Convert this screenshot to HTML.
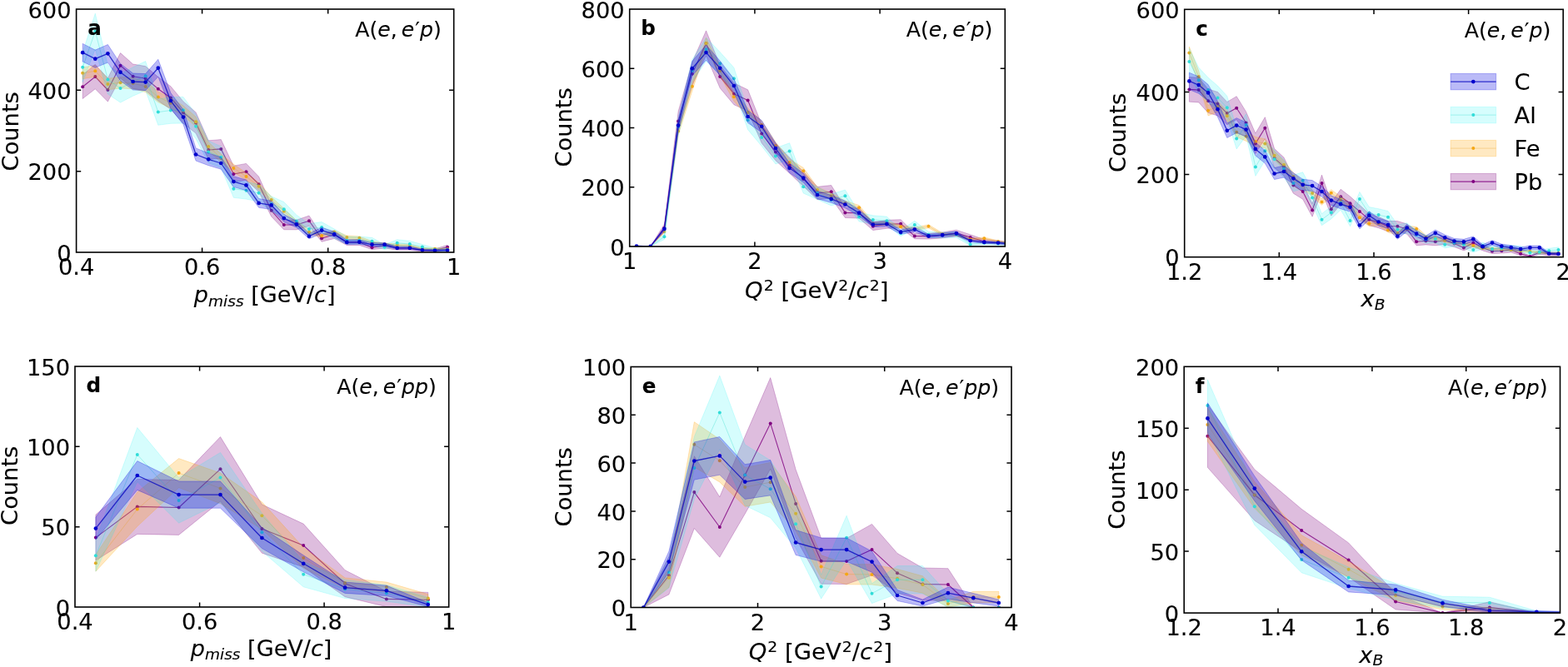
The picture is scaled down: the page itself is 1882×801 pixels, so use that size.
<!DOCTYPE html>
<html lang="en"><head><meta charset="utf-8"><title>Kinematic distributions</title>
<style>html,body{margin:0;padding:0;background:#fff;}body{width:1882px;height:801px;overflow:hidden;}svg{display:block;filter:blur(0.55px);}text{font-family:"DejaVu Sans","Liberation Sans",sans-serif;fill:#000;stroke:#000;stroke-width:0.1px;}.t{font-size:26px;}.ti{font-size:25.2px;}.b{font-weight:bold;font-size:24.6px;}.i{font-style:italic;}.s{font-size:17.8px;}</style></head><body>
<svg width="1882" height="801" viewBox="0 0 1882 801">
<rect width="1882" height="801" fill="#fff"/>
<g id="panel-a">
<clipPath id="clip-a"><rect x="91.6" y="11" width="453.1" height="292"/></clipPath>
<g clip-path="url(#clip-a)">
<polygon points="99.2,89.9 114.3,77.4 129.4,93.9 144.5,63.6 159.6,77 174.7,79.6 189.8,92.5 204.9,103.7 220,121.9 235.1,134.9 250.2,168.8 265.3,167.6 280.4,199.2 295.5,196.4 310.6,212.1 325.7,245.6 340.8,264.2 355.9,264.2 371,259 386.1,282.1 401.2,277.1 416.3,287.5 431.4,287.5 446.5,294.8 461.6,292.1 476.7,295.7 491.8,295.7 506.9,298.9 522,298.9 537.1,294.3 537.1,299.3 522,302.1 506.9,302.1 491.8,300.3 476.7,300.3 461.6,297.9 446.5,299.6 431.4,294.5 416.3,294.5 401.2,286.5 386.1,290.3 371,271.4 355.9,275.8 340.8,275.8 325.7,260 310.6,230.3 295.5,216.2 280.4,218.8 265.3,190.2 250.2,191.2 235.1,160.1 220,148.1 204.9,131.3 189.8,120.9 174.7,108.8 159.6,106.4 144.5,93.8 129.4,122.1 114.3,106.8 99.2,118.5" fill="#800080" fill-opacity="0.26" stroke="#800080" stroke-opacity="0.26" stroke-width="1"/>
<polyline points="99.2,104.2 114.3,92.1 129.4,108 144.5,78.7 159.6,91.7 174.7,94.2 189.8,106.7 204.9,117.5 220,135 235.1,147.5 250.2,180 265.3,178.9 280.4,209 295.5,206.3 310.6,221.2 325.7,252.8 340.8,270 355.9,270 371,265.2 386.1,286.2 401.2,281.8 416.3,291 431.4,291 446.5,297.2 461.6,295 476.7,298 491.8,298 506.9,300.5 522,300.5 537.1,296.8" fill="none" stroke="#800080" stroke-opacity="0.8" stroke-width="1.1" stroke-linejoin="round"/>
<g fill="#800080" fill-opacity="1"><circle cx="99.2" cy="104.2" r="2.0"/><circle cx="114.3" cy="92.1" r="2.0"/><circle cx="129.4" cy="108" r="2.0"/><circle cx="144.5" cy="78.7" r="2.0"/><circle cx="159.6" cy="91.7" r="2.0"/><circle cx="174.7" cy="94.2" r="2.0"/><circle cx="189.8" cy="106.7" r="2.0"/><circle cx="204.9" cy="117.5" r="2.0"/><circle cx="220" cy="135" r="2.0"/><circle cx="235.1" cy="147.5" r="2.0"/><circle cx="250.2" cy="180" r="2.0"/><circle cx="265.3" cy="178.9" r="2.0"/><circle cx="280.4" cy="209" r="2.0"/><circle cx="295.5" cy="206.3" r="2.0"/><circle cx="310.6" cy="221.2" r="2.0"/><circle cx="325.7" cy="252.8" r="2.0"/><circle cx="340.8" cy="270" r="2.0"/><circle cx="355.9" cy="270" r="2.0"/><circle cx="371" cy="265.2" r="2.0"/><circle cx="386.1" cy="286.2" r="2.0"/><circle cx="401.2" cy="281.8" r="2.0"/><circle cx="416.3" cy="291" r="2.0"/><circle cx="431.4" cy="291" r="2.0"/><circle cx="446.5" cy="297.2" r="2.0"/><circle cx="461.6" cy="295" r="2.0"/><circle cx="476.7" cy="298" r="2.0"/><circle cx="491.8" cy="298" r="2.0"/><circle cx="506.9" cy="300.5" r="2.0"/><circle cx="522" cy="300.5" r="2.0"/><circle cx="537.1" cy="296.8" r="2.0"/></g>
<polygon points="99.2,80.9 114.3,78.4 129.4,94.3 144.5,92.6 159.6,93.3 174.7,97.4 189.8,110 204.9,117.4 220,126.9 235.1,140.3 250.2,170.6 265.3,185 280.4,197.3 295.5,207.5 310.6,219.5 325.7,236.3 340.8,250.4 355.9,264.7 371,276.4 386.1,281 401.2,276.4 416.3,282.9 431.4,283.9 446.5,289.6 461.6,292 476.7,292.9 491.8,293.7 506.9,297.7 522,297.7 537.1,298.4 537.1,300.2 522,299.7 506.9,299.7 491.8,296.3 476.7,295.7 461.6,294.8 446.5,292.8 431.4,287.7 416.3,286.9 401.2,281 386.1,285.2 371,281 355.9,270.3 340.8,257 325.7,243.7 310.6,227.9 295.5,216.5 280.4,206.7 265.3,195 250.2,181.2 235.1,152.1 220,139.1 204.9,130 189.8,122.8 174.7,110.6 159.6,106.7 144.5,106 129.4,107.7 114.3,92.2 99.2,94.7" fill="#ffa500" fill-opacity="0.24" stroke="#ffa500" stroke-opacity="0.24" stroke-width="1"/>
<polyline points="99.2,87.8 114.3,85.3 129.4,101 144.5,99.3 159.6,100 174.7,104 189.8,116.4 204.9,123.7 220,133 235.1,146.2 250.2,175.9 265.3,190 280.4,202 295.5,212 310.6,223.7 325.7,240 340.8,253.7 355.9,267.5 371,278.7 386.1,283.1 401.2,278.7 416.3,284.9 431.4,285.8 446.5,291.2 461.6,293.4 476.7,294.3 491.8,295 506.9,298.7 522,298.7 537.1,299.3" fill="none" stroke="#e8a020" stroke-opacity="0.33" stroke-width="1.0" stroke-linejoin="round"/>
<g fill="#f5a614" fill-opacity="1"><circle cx="99.2" cy="87.8" r="2.0"/><circle cx="114.3" cy="85.3" r="2.0"/><circle cx="129.4" cy="101" r="2.0"/><circle cx="144.5" cy="99.3" r="2.0"/><circle cx="159.6" cy="100" r="2.0"/><circle cx="174.7" cy="104" r="2.0"/><circle cx="189.8" cy="116.4" r="2.0"/><circle cx="204.9" cy="123.7" r="2.0"/><circle cx="220" cy="133" r="2.0"/><circle cx="235.1" cy="146.2" r="2.0"/><circle cx="250.2" cy="175.9" r="2.0"/><circle cx="265.3" cy="190" r="2.0"/><circle cx="280.4" cy="202" r="2.0"/><circle cx="295.5" cy="212" r="2.0"/><circle cx="310.6" cy="223.7" r="2.0"/><circle cx="325.7" cy="240" r="2.0"/><circle cx="340.8" cy="253.7" r="2.0"/><circle cx="355.9" cy="267.5" r="2.0"/><circle cx="371" cy="278.7" r="2.0"/><circle cx="386.1" cy="283.1" r="2.0"/><circle cx="401.2" cy="278.7" r="2.0"/><circle cx="416.3" cy="284.9" r="2.0"/><circle cx="431.4" cy="285.8" r="2.0"/><circle cx="446.5" cy="291.2" r="2.0"/><circle cx="461.6" cy="293.4" r="2.0"/><circle cx="476.7" cy="294.3" r="2.0"/><circle cx="491.8" cy="295" r="2.0"/><circle cx="506.9" cy="298.7" r="2.0"/><circle cx="522" cy="298.7" r="2.0"/><circle cx="537.1" cy="299.3" r="2.0"/></g>
<polygon points="99.2,62.8 114.3,16.2 129.4,78.1 144.5,89.1 159.6,80.7 174.7,73.6 189.8,118.9 204.9,116.7 220,116.4 235.1,136.9 250.2,169.1 265.3,175.8 280.4,216.3 295.5,218.3 310.6,221.6 325.7,235.8 340.8,242.5 355.9,258.2 371,268.6 386.1,266.5 401.2,274.9 416.3,284.1 431.4,284.1 446.5,285.3 461.6,293.8 476.7,287.8 491.8,289.3 506.9,293.5 522,297.9 537.1,297.9 537.1,302.1 522,302.1 506.9,299.7 491.8,296.9 476.7,295.8 461.6,299.8 446.5,294.1 431.4,293.3 416.3,293.3 401.2,286.3 386.1,279.7 371,281.4 355.9,273 340.8,259.9 325.7,254.2 310.6,242 295.5,239.1 280.4,237.3 265.3,201.6 250.2,195.7 235.1,166.7 220,148 204.9,148.3 189.8,150.3 174.7,108.8 159.6,115.3 144.5,123.1 129.4,112.9 114.3,59 99.2,98.8" fill="#00f0f0" fill-opacity="0.16" stroke="#00f0f0" stroke-opacity="0.16" stroke-width="1"/>
<polyline points="99.2,80.8 114.3,37.6 129.4,95.5 144.5,106.1 159.6,98 174.7,91.2 189.8,134.6 204.9,132.5 220,132.2 235.1,151.8 250.2,182.4 265.3,188.7 280.4,226.8 295.5,228.7 310.6,231.8 325.7,245 340.8,251.2 355.9,265.6 371,275 386.1,273.1 401.2,280.6 416.3,288.7 431.4,288.7 446.5,289.7 461.6,296.8 476.7,291.8 491.8,293.1 506.9,296.6 522,300 537.1,300" fill="none" stroke="#40e0d0" stroke-opacity="0.38" stroke-width="1.0" stroke-linejoin="round"/>
<g fill="#30dcd8" fill-opacity="1"><circle cx="99.2" cy="80.8" r="2.0"/><circle cx="114.3" cy="37.6" r="2.0"/><circle cx="129.4" cy="95.5" r="2.0"/><circle cx="144.5" cy="106.1" r="2.0"/><circle cx="159.6" cy="98" r="2.0"/><circle cx="174.7" cy="91.2" r="2.0"/><circle cx="189.8" cy="134.6" r="2.0"/><circle cx="204.9" cy="132.5" r="2.0"/><circle cx="220" cy="132.2" r="2.0"/><circle cx="235.1" cy="151.8" r="2.0"/><circle cx="250.2" cy="182.4" r="2.0"/><circle cx="265.3" cy="188.7" r="2.0"/><circle cx="280.4" cy="226.8" r="2.0"/><circle cx="295.5" cy="228.7" r="2.0"/><circle cx="310.6" cy="231.8" r="2.0"/><circle cx="325.7" cy="245" r="2.0"/><circle cx="340.8" cy="251.2" r="2.0"/><circle cx="355.9" cy="265.6" r="2.0"/><circle cx="371" cy="275" r="2.0"/><circle cx="386.1" cy="273.1" r="2.0"/><circle cx="401.2" cy="280.6" r="2.0"/><circle cx="416.3" cy="288.7" r="2.0"/><circle cx="431.4" cy="288.7" r="2.0"/><circle cx="446.5" cy="289.7" r="2.0"/><circle cx="461.6" cy="296.8" r="2.0"/><circle cx="476.7" cy="291.8" r="2.0"/><circle cx="491.8" cy="293.1" r="2.0"/><circle cx="506.9" cy="296.6" r="2.0"/><circle cx="522" cy="300" r="2.0"/><circle cx="537.1" cy="300" r="2.0"/></g>
<polygon points="99.2,52.4 114.3,60.1 129.4,53.5 144.5,76.4 159.6,88 174.7,88.6 189.8,71.3 204.9,111.6 220,131.7 235.1,177.9 250.2,183.9 265.3,188.8 280.4,211.7 295.5,216.1 310.6,238.5 325.7,241.2 340.8,257.6 355.9,265.3 371,280.6 386.1,273 401.2,278.2 416.3,288.5 431.4,288.1 446.5,291.6 461.6,291.6 476.7,296.2 491.8,296.2 506.9,299.2 522,299.8 537.1,299.4 537.1,301.6 522,301.8 506.9,301.4 491.8,299.4 476.7,299.4 461.6,295.8 446.5,295.8 431.4,293.1 416.3,293.3 401.2,284.6 386.1,280.2 371,286.8 355.9,273.3 340.8,266.6 325.7,251.6 310.6,249.3 295.5,228.7 280.4,224.5 265.3,203.2 250.2,198.7 235.1,193.1 220,149.5 204.9,130.4 189.8,92.1 174.7,108.6 159.6,108 144.5,97 129.4,75.1 114.3,81.3 99.2,74" fill="#0000e0" fill-opacity="0.27" stroke="#0000e0" stroke-opacity="0.27" stroke-width="1"/>
<polyline points="99.2,63.2 114.3,70.7 129.4,64.3 144.5,86.7 159.6,98 174.7,98.6 189.8,81.7 204.9,121 220,140.6 235.1,185.5 250.2,191.3 265.3,196 280.4,218.1 295.5,222.4 310.6,243.9 325.7,246.4 340.8,262.1 355.9,269.3 371,283.7 386.1,276.6 401.2,281.4 416.3,290.9 431.4,290.6 446.5,293.7 461.6,293.7 476.7,297.8 491.8,297.8 506.9,300.3 522,300.8 537.1,300.5" fill="none" stroke="#0a0ac0" stroke-opacity="0.8" stroke-width="1.3" stroke-linejoin="round"/>
<g fill="#0000cd" fill-opacity="1"><circle cx="99.2" cy="63.2" r="2.35"/><circle cx="114.3" cy="70.7" r="2.35"/><circle cx="129.4" cy="64.3" r="2.35"/><circle cx="144.5" cy="86.7" r="2.35"/><circle cx="159.6" cy="98" r="2.35"/><circle cx="174.7" cy="98.6" r="2.35"/><circle cx="189.8" cy="81.7" r="2.35"/><circle cx="204.9" cy="121" r="2.35"/><circle cx="220" cy="140.6" r="2.35"/><circle cx="235.1" cy="185.5" r="2.35"/><circle cx="250.2" cy="191.3" r="2.35"/><circle cx="265.3" cy="196" r="2.35"/><circle cx="280.4" cy="218.1" r="2.35"/><circle cx="295.5" cy="222.4" r="2.35"/><circle cx="310.6" cy="243.9" r="2.35"/><circle cx="325.7" cy="246.4" r="2.35"/><circle cx="340.8" cy="262.1" r="2.35"/><circle cx="355.9" cy="269.3" r="2.35"/><circle cx="371" cy="283.7" r="2.35"/><circle cx="386.1" cy="276.6" r="2.35"/><circle cx="401.2" cy="281.4" r="2.35"/><circle cx="416.3" cy="290.9" r="2.35"/><circle cx="431.4" cy="290.6" r="2.35"/><circle cx="446.5" cy="293.7" r="2.35"/><circle cx="461.6" cy="293.7" r="2.35"/><circle cx="476.7" cy="297.8" r="2.35"/><circle cx="491.8" cy="297.8" r="2.35"/><circle cx="506.9" cy="300.3" r="2.35"/><circle cx="522" cy="300.8" r="2.35"/><circle cx="537.1" cy="300.5" r="2.35"/></g>
</g>
<path d="M242.6 303v-5.6M242.6 11v5.6M393.7 303v-5.6M393.7 11v5.6M91.6 205.7h5.6M544.7 205.7h-5.6M91.6 108.3h5.6M544.7 108.3h-5.6" stroke="#000" stroke-width="1.5" fill="none"/>
<rect x="91.6" y="11" width="453.1" height="292" fill="none" stroke="#000" stroke-width="1.6"/>
<text class="t" transform="translate(91.6 330) scale(1.05 1)" text-anchor="middle">0.4</text>
<text class="t" transform="translate(242.6 330) scale(1.05 1)" text-anchor="middle">0.6</text>
<text class="t" transform="translate(393.7 330) scale(1.05 1)" text-anchor="middle">0.8</text>
<text class="t" transform="translate(544.7 330) scale(1.05 1)" text-anchor="middle">1</text>
<text class="t" transform="translate(85.6 313.7) scale(1.05 1)" text-anchor="end">0</text>
<text class="t" transform="translate(85.6 216.4) scale(1.05 1)" text-anchor="end">200</text>
<text class="t" transform="translate(85.6 119) scale(1.05 1)" text-anchor="end">400</text>
<text class="t" transform="translate(85.6 21.7) scale(1.05 1)" text-anchor="end">600</text>
<text class="t" transform="translate(21.9 157.8) rotate(-90) scale(1.05 1)" text-anchor="middle">Counts</text>
<text class="t" transform="translate(317.7 363.4) scale(1.042 1)" text-anchor="middle"><tspan class="i">p</tspan><tspan class="i s" dy="4.2">miss</tspan><tspan dy="-4.2"> [GeV/</tspan><tspan class="i">c</tspan>]</text>
<text class="t b" transform="translate(105.2 42.3) scale(1.0 1)" text-anchor="start">a</text>
<text class="t ti" transform="translate(529.8 44.3) scale(1.0 1)" text-anchor="end">A(<tspan class="i">e</tspan>,<tspan class="i" dx="5">e</tspan><tspan dx="1">′</tspan><tspan class="i">p</tspan>)</text>
</g>
<g id="panel-b">
<clipPath id="clip-b"><rect x="755.7" y="11" width="450.6" height="285"/></clipPath>
<g clip-path="url(#clip-b)">
<polygon points="764,296 780.7,296 797.4,269.2 814.1,133.8 830.8,74.8 847.5,36.9 864.2,78.4 880.9,99.7 897.6,107.8 914.2,149.4 930.9,172.1 947.6,189.1 964.3,206.3 981,224.3 997.7,222.5 1014.4,249.3 1031.1,249.9 1047.8,267.1 1064.4,264.3 1081.1,263.7 1097.8,280 1114.5,280.3 1131.2,278.9 1147.9,276.2 1164.6,281.7 1181.3,287.6 1198,289.1 1214.6,291.3 1214.6,294.7 1198,293.3 1181.3,292.4 1164.6,288.1 1147.9,283.8 1131.2,285.9 1114.5,287.1 1097.8,286.8 1081.1,273.7 1064.4,274.3 1047.8,276.5 1031.1,262.1 1014.4,261.5 997.7,238.1 981,239.7 964.3,223.7 947.6,208.1 930.9,192.7 914.2,171.8 897.6,133.2 880.9,125.7 864.2,105.8 847.5,66.9 830.8,102.6 814.1,157.4 797.4,278.2 780.7,296 764,296" fill="#800080" fill-opacity="0.26" stroke="#800080" stroke-opacity="0.26" stroke-width="1"/>
<polyline points="764,296 780.7,296 797.4,273.7 814.1,145.6 830.8,88.7 847.5,51.9 864.2,92.1 880.9,112.7 897.6,120.5 914.2,160.6 930.9,182.4 947.6,198.6 964.3,215 981,232 997.7,230.3 1014.4,255.4 1031.1,256 1047.8,271.8 1064.4,269.3 1081.1,268.7 1097.8,283.4 1114.5,283.7 1131.2,282.4 1147.9,280 1164.6,284.9 1181.3,290 1198,291.2 1214.6,293" fill="none" stroke="#800080" stroke-opacity="0.8" stroke-width="1.1" stroke-linejoin="round"/>
<g fill="#800080" fill-opacity="1"><circle cx="764" cy="296" r="2.0"/><circle cx="780.7" cy="296" r="2.0"/><circle cx="797.4" cy="273.7" r="2.0"/><circle cx="814.1" cy="145.6" r="2.0"/><circle cx="830.8" cy="88.7" r="2.0"/><circle cx="847.5" cy="51.9" r="2.0"/><circle cx="864.2" cy="92.1" r="2.0"/><circle cx="880.9" cy="112.7" r="2.0"/><circle cx="897.6" cy="120.5" r="2.0"/><circle cx="914.2" cy="160.6" r="2.0"/><circle cx="930.9" cy="182.4" r="2.0"/><circle cx="947.6" cy="198.6" r="2.0"/><circle cx="964.3" cy="215" r="2.0"/><circle cx="981" cy="232" r="2.0"/><circle cx="997.7" cy="230.3" r="2.0"/><circle cx="1014.4" cy="255.4" r="2.0"/><circle cx="1031.1" cy="256" r="2.0"/><circle cx="1047.8" cy="271.8" r="2.0"/><circle cx="1064.4" cy="269.3" r="2.0"/><circle cx="1081.1" cy="268.7" r="2.0"/><circle cx="1097.8" cy="283.4" r="2.0"/><circle cx="1114.5" cy="283.7" r="2.0"/><circle cx="1131.2" cy="282.4" r="2.0"/><circle cx="1147.9" cy="280" r="2.0"/><circle cx="1164.6" cy="284.9" r="2.0"/><circle cx="1181.3" cy="290" r="2.0"/><circle cx="1198" cy="291.2" r="2.0"/><circle cx="1214.6" cy="293" r="2.0"/></g>
<polygon points="764,296 780.7,296 797.4,276.3 814.1,152.7 830.8,98.1 847.5,45.6 864.2,79.2 880.9,110.8 897.6,129.9 914.2,145.2 930.9,170.6 947.6,191 964.3,201.5 981,224.7 997.7,231.9 1014.4,241.1 1031.1,246.5 1047.8,266.6 1064.4,265.9 1081.1,270.2 1097.8,273.2 1114.5,269.8 1131.2,279.7 1147.9,280.3 1164.6,286.2 1181.3,284.9 1198,289 1214.6,291.2 1214.6,292.8 1198,291 1181.3,287.5 1164.6,288.6 1147.9,283.3 1131.2,282.7 1114.5,273.8 1097.8,276.8 1081.1,274.2 1064.4,270.1 1047.8,270.8 1031.1,251.9 1014.4,246.9 997.7,238.1 981,231.3 964.3,209.1 947.6,199 930.9,179.4 914.2,154.8 897.6,140.1 880.9,121.6 864.2,90.8 847.5,58.2 830.8,109.3 814.1,162.1 797.4,279.7 780.7,296 764,296" fill="#ffa500" fill-opacity="0.24" stroke="#ffa500" stroke-opacity="0.24" stroke-width="1"/>
<polyline points="764,296 780.7,296 797.4,278 814.1,157.4 830.8,103.7 847.5,51.9 864.2,85 880.9,116.2 897.6,135 914.2,150 930.9,175 947.6,195 964.3,205.3 981,228 997.7,235 1014.4,244 1031.1,249.2 1047.8,268.7 1064.4,268 1081.1,272.2 1097.8,275 1114.5,271.8 1131.2,281.2 1147.9,281.8 1164.6,287.4 1181.3,286.2 1198,290 1214.6,292" fill="none" stroke="#e8a020" stroke-opacity="0.33" stroke-width="1.0" stroke-linejoin="round"/>
<g fill="#f5a614" fill-opacity="1"><circle cx="764" cy="296" r="2.0"/><circle cx="780.7" cy="296" r="2.0"/><circle cx="797.4" cy="278" r="2.0"/><circle cx="814.1" cy="157.4" r="2.0"/><circle cx="830.8" cy="103.7" r="2.0"/><circle cx="847.5" cy="51.9" r="2.0"/><circle cx="864.2" cy="85" r="2.0"/><circle cx="880.9" cy="116.2" r="2.0"/><circle cx="897.6" cy="135" r="2.0"/><circle cx="914.2" cy="150" r="2.0"/><circle cx="930.9" cy="175" r="2.0"/><circle cx="947.6" cy="195" r="2.0"/><circle cx="964.3" cy="205.3" r="2.0"/><circle cx="981" cy="228" r="2.0"/><circle cx="997.7" cy="235" r="2.0"/><circle cx="1014.4" cy="244" r="2.0"/><circle cx="1031.1" cy="249.2" r="2.0"/><circle cx="1047.8" cy="268.7" r="2.0"/><circle cx="1064.4" cy="268" r="2.0"/><circle cx="1081.1" cy="272.2" r="2.0"/><circle cx="1097.8" cy="275" r="2.0"/><circle cx="1114.5" cy="271.8" r="2.0"/><circle cx="1131.2" cy="281.2" r="2.0"/><circle cx="1147.9" cy="281.8" r="2.0"/><circle cx="1164.6" cy="287.4" r="2.0"/><circle cx="1181.3" cy="286.2" r="2.0"/><circle cx="1198" cy="290" r="2.0"/><circle cx="1214.6" cy="292" r="2.0"/></g>
<polygon points="764,296 780.7,296 797.4,281.1 814.1,140.9 830.8,71.6 847.5,45.1 864.2,62.5 880.9,81.2 897.6,132.9 914.2,154.3 930.9,177.8 947.6,171.7 964.3,216.5 981,224.6 997.7,233.1 1014.4,228 1031.1,255 1047.8,258.8 1064.4,260.1 1081.1,276.3 1097.8,265.3 1114.5,278.3 1131.2,279 1147.9,278.3 1164.6,291.9 1181.3,289.9 1198,290.6 1214.6,291.4 1214.6,294.6 1198,294.2 1181.3,293.7 1164.6,294.9 1147.9,285.3 1131.2,285.8 1114.5,285.3 1097.8,274.7 1081.1,283.7 1064.4,270.3 1047.8,269.2 1031.1,266 1014.4,242.4 997.7,246.9 981,239.4 964.3,232.1 947.6,191.5 930.9,197 914.2,175.5 897.6,155.7 880.9,107.4 864.2,89.9 847.5,73.5 830.8,98.4 814.1,163.1 797.4,287.5 780.7,296 764,296" fill="#00f0f0" fill-opacity="0.16" stroke="#00f0f0" stroke-opacity="0.16" stroke-width="1"/>
<polyline points="764,296 780.7,296 797.4,284.3 814.1,152 830.8,85 847.5,59.3 864.2,76.2 880.9,94.3 897.6,144.3 914.2,164.9 930.9,187.4 947.6,181.6 964.3,224.3 981,232 997.7,240 1014.4,235.2 1031.1,260.5 1047.8,264 1064.4,265.2 1081.1,280 1097.8,270 1114.5,281.8 1131.2,282.4 1147.9,281.8 1164.6,293.4 1181.3,291.8 1198,292.4 1214.6,293" fill="none" stroke="#40e0d0" stroke-opacity="0.38" stroke-width="1.0" stroke-linejoin="round"/>
<g fill="#30dcd8" fill-opacity="1"><circle cx="764" cy="296" r="2.0"/><circle cx="780.7" cy="296" r="2.0"/><circle cx="797.4" cy="284.3" r="2.0"/><circle cx="814.1" cy="152" r="2.0"/><circle cx="830.8" cy="85" r="2.0"/><circle cx="847.5" cy="59.3" r="2.0"/><circle cx="864.2" cy="76.2" r="2.0"/><circle cx="880.9" cy="94.3" r="2.0"/><circle cx="897.6" cy="144.3" r="2.0"/><circle cx="914.2" cy="164.9" r="2.0"/><circle cx="930.9" cy="187.4" r="2.0"/><circle cx="947.6" cy="181.6" r="2.0"/><circle cx="964.3" cy="224.3" r="2.0"/><circle cx="981" cy="232" r="2.0"/><circle cx="997.7" cy="240" r="2.0"/><circle cx="1014.4" cy="235.2" r="2.0"/><circle cx="1031.1" cy="260.5" r="2.0"/><circle cx="1047.8" cy="264" r="2.0"/><circle cx="1064.4" cy="265.2" r="2.0"/><circle cx="1081.1" cy="280" r="2.0"/><circle cx="1097.8" cy="270" r="2.0"/><circle cx="1114.5" cy="281.8" r="2.0"/><circle cx="1131.2" cy="282.4" r="2.0"/><circle cx="1147.9" cy="281.8" r="2.0"/><circle cx="1164.6" cy="293.4" r="2.0"/><circle cx="1181.3" cy="291.8" r="2.0"/><circle cx="1198" cy="292.4" r="2.0"/><circle cx="1214.6" cy="293" r="2.0"/></g>
<polygon points="764,295.1 780.7,295.7 797.4,272.2 814.1,143.4 830.8,73.5 847.5,54 864.2,73.1 880.9,94.7 897.6,132.5 914.2,144.6 930.9,171.5 947.6,196 964.3,208.1 981,229.3 997.7,234.4 1014.4,241.3 1031.1,251.9 1047.8,266.4 1064.4,265.9 1081.1,276.2 1097.8,272.9 1114.5,281.3 1131.2,280 1147.9,277.9 1164.6,287.5 1181.3,289.6 1198,290.3 1214.6,292 1214.6,294 1198,292.9 1181.3,292.2 1164.6,290.7 1147.9,282.7 1131.2,284.4 1114.5,285.5 1097.8,278.3 1081.1,281.2 1064.4,272.1 1047.8,272.6 1031.1,259.5 1014.4,249.7 997.7,243.4 981,238.7 964.3,218.9 947.6,207.6 930.9,184.5 914.2,159 897.6,147.5 880.9,111.3 864.2,90.5 847.5,72.2 830.8,90.9 814.1,157.8 797.4,277.6 780.7,296.1 764,295.9" fill="#0000e0" fill-opacity="0.27" stroke="#0000e0" stroke-opacity="0.27" stroke-width="1"/>
<polyline points="764,295.5 780.7,295.9 797.4,274.9 814.1,150.6 830.8,82.2 847.5,63.1 864.2,81.8 880.9,103 897.6,140 914.2,151.8 930.9,178 947.6,201.8 964.3,213.5 981,234 997.7,238.9 1014.4,245.5 1031.1,255.7 1047.8,269.5 1064.4,269 1081.1,278.7 1097.8,275.6 1114.5,283.4 1131.2,282.2 1147.9,280.3 1164.6,289.1 1181.3,290.9 1198,291.6 1214.6,293" fill="none" stroke="#0a0ac0" stroke-opacity="0.8" stroke-width="1.3" stroke-linejoin="round"/>
<g fill="#0000cd" fill-opacity="1"><circle cx="764" cy="295.5" r="2.35"/><circle cx="780.7" cy="295.9" r="2.35"/><circle cx="797.4" cy="274.9" r="2.35"/><circle cx="814.1" cy="150.6" r="2.35"/><circle cx="830.8" cy="82.2" r="2.35"/><circle cx="847.5" cy="63.1" r="2.35"/><circle cx="864.2" cy="81.8" r="2.35"/><circle cx="880.9" cy="103" r="2.35"/><circle cx="897.6" cy="140" r="2.35"/><circle cx="914.2" cy="151.8" r="2.35"/><circle cx="930.9" cy="178" r="2.35"/><circle cx="947.6" cy="201.8" r="2.35"/><circle cx="964.3" cy="213.5" r="2.35"/><circle cx="981" cy="234" r="2.35"/><circle cx="997.7" cy="238.9" r="2.35"/><circle cx="1014.4" cy="245.5" r="2.35"/><circle cx="1031.1" cy="255.7" r="2.35"/><circle cx="1047.8" cy="269.5" r="2.35"/><circle cx="1064.4" cy="269" r="2.35"/><circle cx="1081.1" cy="278.7" r="2.35"/><circle cx="1097.8" cy="275.6" r="2.35"/><circle cx="1114.5" cy="283.4" r="2.35"/><circle cx="1131.2" cy="282.2" r="2.35"/><circle cx="1147.9" cy="280.3" r="2.35"/><circle cx="1164.6" cy="289.1" r="2.35"/><circle cx="1181.3" cy="290.9" r="2.35"/><circle cx="1198" cy="291.6" r="2.35"/><circle cx="1214.6" cy="293" r="2.35"/></g>
</g>
<path d="M905.9 296v-5.6M905.9 11v5.6M1056.1 296v-5.6M1056.1 11v5.6M755.7 224.8h5.6M1206.3 224.8h-5.6M755.7 153.5h5.6M1206.3 153.5h-5.6M755.7 82.2h5.6M1206.3 82.2h-5.6" stroke="#000" stroke-width="1.5" fill="none"/>
<rect x="755.7" y="11" width="450.6" height="285" fill="none" stroke="#000" stroke-width="1.6"/>
<text class="t" transform="translate(755.7 323) scale(1.05 1)" text-anchor="middle">1</text>
<text class="t" transform="translate(905.9 323) scale(1.05 1)" text-anchor="middle">2</text>
<text class="t" transform="translate(1056.1 323) scale(1.05 1)" text-anchor="middle">3</text>
<text class="t" transform="translate(1206.3 323) scale(1.05 1)" text-anchor="middle">4</text>
<text class="t" transform="translate(749.7 306.7) scale(1.05 1)" text-anchor="end">0</text>
<text class="t" transform="translate(749.7 235.4) scale(1.05 1)" text-anchor="end">200</text>
<text class="t" transform="translate(749.7 164.2) scale(1.05 1)" text-anchor="end">400</text>
<text class="t" transform="translate(749.7 93) scale(1.05 1)" text-anchor="end">600</text>
<text class="t" transform="translate(749.7 21.7) scale(1.05 1)" text-anchor="end">800</text>
<text class="t" transform="translate(686 152.9) rotate(-90) scale(1.05 1)" text-anchor="middle">Counts</text>
<text class="t" transform="translate(980.2 358.4) scale(1.057 1)" text-anchor="middle"><tspan class="i">Q</tspan><tspan class="s" dy="-9.5" dx="1">2</tspan><tspan dy="9.5"> [GeV</tspan><tspan class="s" dy="-9.5" dx="1">2</tspan><tspan dy="9.5">/</tspan><tspan class="i">c</tspan><tspan class="s" dy="-9.5" dx="1">2</tspan><tspan dy="9.5">]</tspan></text>
<text class="t b" transform="translate(769.3 42.3) scale(1.0 1)" text-anchor="start">b</text>
<text class="t ti" transform="translate(1191.4 44.3) scale(1.0 1)" text-anchor="end">A(<tspan class="i">e</tspan>,<tspan class="i" dx="5">e</tspan><tspan dx="1">′</tspan><tspan class="i">p</tspan>)</text>
</g>
<g id="panel-c">
<clipPath id="clip-c"><rect x="1421.7" y="11.3" width="454.5" height="297.4"/></clipPath>
<g clip-path="url(#clip-c)">
<polygon points="1427.4,92.6 1438.7,93.3 1450.1,106.9 1461.5,110.5 1472.8,122.4 1484.2,115.7 1495.6,134.2 1506.9,160.2 1518.3,140.7 1529.6,178.6 1541,189.1 1552.4,212.8 1563.7,220.7 1575.1,244.6 1586.5,210.2 1597.8,243.3 1609.2,227.3 1620.5,235.9 1631.9,246.2 1643.3,256.7 1654.6,260.3 1666,265.5 1677.4,265.5 1688.7,268.9 1700.1,285.8 1711.4,284.7 1722.8,285.8 1734.2,284 1745.5,288.2 1756.9,293.9 1768.3,287.5 1779.6,293.9 1791,299.1 1802.3,298.3 1813.7,296.9 1825.1,302.6 1836.4,307.1 1847.8,300.5 1859.2,303 1870.5,303 1870.5,307 1859.2,307 1847.8,305.5 1836.4,308.9 1825.1,306.8 1813.7,303.1 1802.3,304.1 1791,304.5 1779.6,300.9 1768.3,296.1 1756.9,300.9 1745.5,296.6 1734.2,293.4 1722.8,294.8 1711.4,293.9 1700.1,294.8 1688.7,281.1 1677.4,278.1 1666,278.1 1654.6,273.7 1643.3,270.7 1631.9,261.6 1620.5,252.7 1609.2,245.1 1597.8,259.1 1586.5,229.8 1575.1,260.2 1563.7,239.3 1552.4,232.2 1541,210.9 1529.6,201.4 1518.3,166.7 1506.9,184.6 1495.6,160.8 1484.2,143.7 1472.8,149.8 1461.5,138.9 1450.1,135.5 1438.7,122.9 1427.4,122.2" fill="#800080" fill-opacity="0.26" stroke="#800080" stroke-opacity="0.26" stroke-width="1"/>
<polyline points="1427.4,107.4 1438.7,108.1 1450.1,121.2 1461.5,124.7 1472.8,136.1 1484.2,129.7 1495.6,147.5 1506.9,172.4 1518.3,153.7 1529.6,190 1541,200 1552.4,222.5 1563.7,230 1575.1,252.4 1586.5,220 1597.8,251.2 1609.2,236.2 1620.5,244.3 1631.9,253.9 1643.3,263.7 1654.6,267 1666,271.8 1677.4,271.8 1688.7,275 1700.1,290.3 1711.4,289.3 1722.8,290.3 1734.2,288.7 1745.5,292.4 1756.9,297.4 1768.3,291.8 1779.6,297.4 1791,301.8 1802.3,301.2 1813.7,300 1825.1,304.7 1836.4,308 1847.8,303 1859.2,305 1870.5,305" fill="none" stroke="#800080" stroke-opacity="0.8" stroke-width="1.1" stroke-linejoin="round"/>
<g fill="#800080" fill-opacity="1"><circle cx="1427.4" cy="107.4" r="2.0"/><circle cx="1438.7" cy="108.1" r="2.0"/><circle cx="1450.1" cy="121.2" r="2.0"/><circle cx="1461.5" cy="124.7" r="2.0"/><circle cx="1472.8" cy="136.1" r="2.0"/><circle cx="1484.2" cy="129.7" r="2.0"/><circle cx="1495.6" cy="147.5" r="2.0"/><circle cx="1506.9" cy="172.4" r="2.0"/><circle cx="1518.3" cy="153.7" r="2.0"/><circle cx="1529.6" cy="190" r="2.0"/><circle cx="1541" cy="200" r="2.0"/><circle cx="1552.4" cy="222.5" r="2.0"/><circle cx="1563.7" cy="230" r="2.0"/><circle cx="1575.1" cy="252.4" r="2.0"/><circle cx="1586.5" cy="220" r="2.0"/><circle cx="1597.8" cy="251.2" r="2.0"/><circle cx="1609.2" cy="236.2" r="2.0"/><circle cx="1620.5" cy="244.3" r="2.0"/><circle cx="1631.9" cy="253.9" r="2.0"/><circle cx="1643.3" cy="263.7" r="2.0"/><circle cx="1654.6" cy="267" r="2.0"/><circle cx="1666" cy="271.8" r="2.0"/><circle cx="1677.4" cy="271.8" r="2.0"/><circle cx="1688.7" cy="275" r="2.0"/><circle cx="1700.1" cy="290.3" r="2.0"/><circle cx="1711.4" cy="289.3" r="2.0"/><circle cx="1722.8" cy="290.3" r="2.0"/><circle cx="1734.2" cy="288.7" r="2.0"/><circle cx="1745.5" cy="292.4" r="2.0"/><circle cx="1756.9" cy="297.4" r="2.0"/><circle cx="1768.3" cy="291.8" r="2.0"/><circle cx="1779.6" cy="297.4" r="2.0"/><circle cx="1791" cy="301.8" r="2.0"/><circle cx="1802.3" cy="301.2" r="2.0"/><circle cx="1813.7" cy="300" r="2.0"/><circle cx="1825.1" cy="304.7" r="2.0"/><circle cx="1836.4" cy="308" r="2.0"/><circle cx="1847.8" cy="303" r="2.0"/><circle cx="1859.2" cy="305" r="2.0"/><circle cx="1870.5" cy="305" r="2.0"/></g>
<polygon points="1427.4,56.1 1438.7,85 1450.1,126.4 1461.5,121.7 1472.8,133.2 1484.2,152.9 1495.6,158 1506.9,164.4 1518.3,166.9 1529.6,181.6 1541,193 1552.4,207.4 1563.7,217.6 1575.1,227.9 1586.5,238.6 1597.8,227.7 1609.2,236.1 1620.5,244.3 1631.9,257.9 1643.3,265.4 1654.6,265 1666,273.6 1677.4,277.5 1688.7,271.2 1700.1,272.3 1711.4,282.7 1722.8,283.7 1734.2,286.6 1745.5,289 1756.9,290.5 1768.3,293.3 1779.6,296.5 1791,297.2 1802.3,297.5 1813.7,298.6 1825.1,299.7 1836.4,300.8 1847.8,301.9 1859.2,303 1870.5,303 1870.5,305 1859.2,305 1847.8,304.1 1836.4,303.2 1825.1,302.3 1813.7,301.4 1802.3,300.5 1791,300.2 1779.6,299.5 1768.3,296.7 1756.9,294.3 1745.5,293 1734.2,290.8 1722.8,288.3 1711.4,287.3 1700.1,277.7 1688.7,276.8 1677.4,282.5 1666,279 1654.6,271 1643.3,271.4 1631.9,264.5 1620.5,251.7 1609.2,243.9 1597.8,235.9 1586.5,246.2 1575.1,236.1 1563.7,226.4 1552.4,216.6 1541,203 1529.6,192 1518.3,177.9 1506.9,175.6 1495.6,169.4 1484.2,164.5 1472.8,145.4 1461.5,134.3 1450.1,139 1438.7,99 1427.4,70.9" fill="#ffa500" fill-opacity="0.24" stroke="#ffa500" stroke-opacity="0.24" stroke-width="1"/>
<polyline points="1427.4,63.5 1438.7,92 1450.1,132.7 1461.5,128 1472.8,139.3 1484.2,158.7 1495.6,163.7 1506.9,170 1518.3,172.4 1529.6,186.8 1541,198 1552.4,212 1563.7,222 1575.1,232 1586.5,242.4 1597.8,231.8 1609.2,240 1620.5,248 1631.9,261.2 1643.3,268.4 1654.6,268 1666,276.3 1677.4,280 1688.7,274 1700.1,275 1711.4,285 1722.8,286 1734.2,288.7 1745.5,291 1756.9,292.4 1768.3,295 1779.6,298 1791,298.7 1802.3,299 1813.7,300 1825.1,301 1836.4,302 1847.8,303 1859.2,304 1870.5,304" fill="none" stroke="#e8a020" stroke-opacity="0.33" stroke-width="1.0" stroke-linejoin="round"/>
<g fill="#f5a614" fill-opacity="1"><circle cx="1427.4" cy="63.5" r="2.0"/><circle cx="1438.7" cy="92" r="2.0"/><circle cx="1450.1" cy="132.7" r="2.0"/><circle cx="1461.5" cy="128" r="2.0"/><circle cx="1472.8" cy="139.3" r="2.0"/><circle cx="1484.2" cy="158.7" r="2.0"/><circle cx="1495.6" cy="163.7" r="2.0"/><circle cx="1506.9" cy="170" r="2.0"/><circle cx="1518.3" cy="172.4" r="2.0"/><circle cx="1529.6" cy="186.8" r="2.0"/><circle cx="1541" cy="198" r="2.0"/><circle cx="1552.4" cy="212" r="2.0"/><circle cx="1563.7" cy="222" r="2.0"/><circle cx="1575.1" cy="232" r="2.0"/><circle cx="1586.5" cy="242.4" r="2.0"/><circle cx="1597.8" cy="231.8" r="2.0"/><circle cx="1609.2" cy="240" r="2.0"/><circle cx="1620.5" cy="248" r="2.0"/><circle cx="1631.9" cy="261.2" r="2.0"/><circle cx="1643.3" cy="268.4" r="2.0"/><circle cx="1654.6" cy="268" r="2.0"/><circle cx="1666" cy="276.3" r="2.0"/><circle cx="1677.4" cy="280" r="2.0"/><circle cx="1688.7" cy="274" r="2.0"/><circle cx="1700.1" cy="275" r="2.0"/><circle cx="1711.4" cy="285" r="2.0"/><circle cx="1722.8" cy="286" r="2.0"/><circle cx="1734.2" cy="288.7" r="2.0"/><circle cx="1745.5" cy="291" r="2.0"/><circle cx="1756.9" cy="292.4" r="2.0"/><circle cx="1768.3" cy="295" r="2.0"/><circle cx="1779.6" cy="298" r="2.0"/><circle cx="1791" cy="298.7" r="2.0"/><circle cx="1802.3" cy="299" r="2.0"/><circle cx="1813.7" cy="300" r="2.0"/><circle cx="1825.1" cy="301" r="2.0"/><circle cx="1836.4" cy="302" r="2.0"/><circle cx="1847.8" cy="303" r="2.0"/><circle cx="1859.2" cy="304" r="2.0"/><circle cx="1870.5" cy="304" r="2.0"/></g>
<polygon points="1427.4,58 1438.7,81 1450.1,93.2 1461.5,103 1472.8,115.3 1484.2,153.9 1495.6,136.8 1506.9,189.6 1518.3,169.4 1529.6,179.9 1541,191.7 1552.4,210.2 1563.7,206.8 1575.1,228.6 1586.5,256.7 1597.8,247.7 1609.2,235.3 1620.5,258 1631.9,230.4 1643.3,248.6 1654.6,250.7 1666,253.5 1677.4,269.7 1688.7,267.8 1700.1,276.6 1711.4,282.6 1722.8,281.9 1734.2,289.7 1745.5,287.5 1756.9,289.7 1768.3,296.8 1779.6,291.1 1791,295.6 1802.3,294.6 1813.7,294.6 1825.1,295.4 1836.4,301 1847.8,300.3 1859.2,298.3 1870.5,296.8 1870.5,303 1859.2,304.1 1847.8,305.3 1836.4,305.8 1825.1,302 1813.7,301.4 1802.3,301.4 1791,302.2 1779.6,298.9 1768.3,303 1756.9,297.7 1745.5,296.1 1734.2,297.7 1722.8,291.7 1711.4,292.2 1700.1,287.4 1688.7,280.2 1677.4,281.7 1666,267.9 1654.6,265.5 1643.3,263.8 1631.9,247.8 1620.5,271.8 1609.2,252.1 1597.8,262.9 1586.5,270.7 1575.1,246.2 1563.7,226.8 1552.4,229.8 1541,213.3 1529.6,202.5 1518.3,193 1506.9,211.4 1495.6,163.2 1484.2,178.9 1472.8,143.3 1461.5,131.8 1450.1,122.8 1438.7,111.4 1427.4,90" fill="#00f0f0" fill-opacity="0.16" stroke="#00f0f0" stroke-opacity="0.16" stroke-width="1"/>
<polyline points="1427.4,74 1438.7,96.2 1450.1,108 1461.5,117.4 1472.8,129.3 1484.2,166.4 1495.6,150 1506.9,200.5 1518.3,181.2 1529.6,191.2 1541,202.5 1552.4,220 1563.7,216.8 1575.1,237.4 1586.5,263.7 1597.8,255.3 1609.2,243.7 1620.5,264.9 1631.9,239.1 1643.3,256.2 1654.6,258.1 1666,260.7 1677.4,275.7 1688.7,274 1700.1,282 1711.4,287.4 1722.8,286.8 1734.2,293.7 1745.5,291.8 1756.9,293.7 1768.3,299.9 1779.6,295 1791,298.9 1802.3,298 1813.7,298 1825.1,298.7 1836.4,303.4 1847.8,302.8 1859.2,301.2 1870.5,299.9" fill="none" stroke="#40e0d0" stroke-opacity="0.38" stroke-width="1.0" stroke-linejoin="round"/>
<g fill="#30dcd8" fill-opacity="1"><circle cx="1427.4" cy="74" r="2.0"/><circle cx="1438.7" cy="96.2" r="2.0"/><circle cx="1450.1" cy="108" r="2.0"/><circle cx="1461.5" cy="117.4" r="2.0"/><circle cx="1472.8" cy="129.3" r="2.0"/><circle cx="1484.2" cy="166.4" r="2.0"/><circle cx="1495.6" cy="150" r="2.0"/><circle cx="1506.9" cy="200.5" r="2.0"/><circle cx="1518.3" cy="181.2" r="2.0"/><circle cx="1529.6" cy="191.2" r="2.0"/><circle cx="1541" cy="202.5" r="2.0"/><circle cx="1552.4" cy="220" r="2.0"/><circle cx="1563.7" cy="216.8" r="2.0"/><circle cx="1575.1" cy="237.4" r="2.0"/><circle cx="1586.5" cy="263.7" r="2.0"/><circle cx="1597.8" cy="255.3" r="2.0"/><circle cx="1609.2" cy="243.7" r="2.0"/><circle cx="1620.5" cy="264.9" r="2.0"/><circle cx="1631.9" cy="239.1" r="2.0"/><circle cx="1643.3" cy="256.2" r="2.0"/><circle cx="1654.6" cy="258.1" r="2.0"/><circle cx="1666" cy="260.7" r="2.0"/><circle cx="1677.4" cy="275.7" r="2.0"/><circle cx="1688.7" cy="274" r="2.0"/><circle cx="1700.1" cy="282" r="2.0"/><circle cx="1711.4" cy="287.4" r="2.0"/><circle cx="1722.8" cy="286.8" r="2.0"/><circle cx="1734.2" cy="293.7" r="2.0"/><circle cx="1745.5" cy="291.8" r="2.0"/><circle cx="1756.9" cy="293.7" r="2.0"/><circle cx="1768.3" cy="299.9" r="2.0"/><circle cx="1779.6" cy="295" r="2.0"/><circle cx="1791" cy="298.9" r="2.0"/><circle cx="1802.3" cy="298" r="2.0"/><circle cx="1813.7" cy="298" r="2.0"/><circle cx="1825.1" cy="298.7" r="2.0"/><circle cx="1836.4" cy="303.4" r="2.0"/><circle cx="1847.8" cy="302.8" r="2.0"/><circle cx="1859.2" cy="301.2" r="2.0"/><circle cx="1870.5" cy="299.9" r="2.0"/></g>
<polygon points="1427.4,87.2 1438.7,92 1450.1,101.5 1461.5,121.8 1472.8,148.1 1484.2,141.7 1495.6,146.9 1506.9,170.9 1518.3,180.7 1529.6,201.5 1541,198.9 1552.4,207.5 1563.7,215.2 1575.1,216.6 1586.5,223.8 1597.8,234.8 1609.2,239.6 1620.5,243.2 1631.9,266.1 1643.3,253.7 1654.6,261.9 1666,265.6 1677.4,280.2 1688.7,269.3 1700.1,276.9 1711.4,283.2 1722.8,276 1734.2,281.9 1745.5,286.4 1756.9,287.3 1768.3,283.9 1779.6,293.7 1791,288.7 1802.3,293.1 1813.7,294.8 1825.1,296.9 1836.4,295 1847.8,295 1859.2,303.1 1870.5,303.5 1870.5,306.3 1859.2,305.9 1847.8,299.8 1836.4,299.8 1825.1,301.3 1813.7,299.6 1802.3,298.1 1791,294.5 1779.6,298.7 1768.3,290.5 1756.9,293.3 1745.5,292.6 1734.2,288.7 1722.8,283.6 1711.4,289.8 1700.1,284.3 1688.7,277.7 1677.4,287.2 1666,274.4 1654.6,271.1 1643.3,263.7 1631.9,274.9 1620.5,254.2 1609.2,250.8 1597.8,246.4 1586.5,236.2 1575.1,229.6 1563.7,228.4 1552.4,221.1 1541,213.1 1529.6,215.5 1518.3,196.1 1506.9,186.9 1495.6,164.3 1484.2,159.5 1472.8,165.5 1461.5,140.6 1450.1,121.3 1438.7,112.2 1427.4,107.6" fill="#0000e0" fill-opacity="0.27" stroke="#0000e0" stroke-opacity="0.27" stroke-width="1"/>
<polyline points="1427.4,97.4 1438.7,102.1 1450.1,111.4 1461.5,131.2 1472.8,156.8 1484.2,150.6 1495.6,155.6 1506.9,178.9 1518.3,188.4 1529.6,208.5 1541,206 1552.4,214.3 1563.7,221.8 1575.1,223.1 1586.5,230 1597.8,240.6 1609.2,245.2 1620.5,248.7 1631.9,270.5 1643.3,258.7 1654.6,266.5 1666,270 1677.4,283.7 1688.7,273.5 1700.1,280.6 1711.4,286.5 1722.8,279.8 1734.2,285.3 1745.5,289.5 1756.9,290.3 1768.3,287.2 1779.6,296.2 1791,291.6 1802.3,295.6 1813.7,297.2 1825.1,299.1 1836.4,297.4 1847.8,297.4 1859.2,304.5 1870.5,304.9" fill="none" stroke="#0a0ac0" stroke-opacity="0.8" stroke-width="1.3" stroke-linejoin="round"/>
<g fill="#0000cd" fill-opacity="1"><circle cx="1427.4" cy="97.4" r="2.35"/><circle cx="1438.7" cy="102.1" r="2.35"/><circle cx="1450.1" cy="111.4" r="2.35"/><circle cx="1461.5" cy="131.2" r="2.35"/><circle cx="1472.8" cy="156.8" r="2.35"/><circle cx="1484.2" cy="150.6" r="2.35"/><circle cx="1495.6" cy="155.6" r="2.35"/><circle cx="1506.9" cy="178.9" r="2.35"/><circle cx="1518.3" cy="188.4" r="2.35"/><circle cx="1529.6" cy="208.5" r="2.35"/><circle cx="1541" cy="206" r="2.35"/><circle cx="1552.4" cy="214.3" r="2.35"/><circle cx="1563.7" cy="221.8" r="2.35"/><circle cx="1575.1" cy="223.1" r="2.35"/><circle cx="1586.5" cy="230" r="2.35"/><circle cx="1597.8" cy="240.6" r="2.35"/><circle cx="1609.2" cy="245.2" r="2.35"/><circle cx="1620.5" cy="248.7" r="2.35"/><circle cx="1631.9" cy="270.5" r="2.35"/><circle cx="1643.3" cy="258.7" r="2.35"/><circle cx="1654.6" cy="266.5" r="2.35"/><circle cx="1666" cy="270" r="2.35"/><circle cx="1677.4" cy="283.7" r="2.35"/><circle cx="1688.7" cy="273.5" r="2.35"/><circle cx="1700.1" cy="280.6" r="2.35"/><circle cx="1711.4" cy="286.5" r="2.35"/><circle cx="1722.8" cy="279.8" r="2.35"/><circle cx="1734.2" cy="285.3" r="2.35"/><circle cx="1745.5" cy="289.5" r="2.35"/><circle cx="1756.9" cy="290.3" r="2.35"/><circle cx="1768.3" cy="287.2" r="2.35"/><circle cx="1779.6" cy="296.2" r="2.35"/><circle cx="1791" cy="291.6" r="2.35"/><circle cx="1802.3" cy="295.6" r="2.35"/><circle cx="1813.7" cy="297.2" r="2.35"/><circle cx="1825.1" cy="299.1" r="2.35"/><circle cx="1836.4" cy="297.4" r="2.35"/><circle cx="1847.8" cy="297.4" r="2.35"/><circle cx="1859.2" cy="304.5" r="2.35"/><circle cx="1870.5" cy="304.9" r="2.35"/></g>
</g>
<path d="M1535.3 308.7v-5.6M1535.3 11.3v5.6M1649 308.7v-5.6M1649 11.3v5.6M1762.6 308.7v-5.6M1762.6 11.3v5.6M1421.7 209.6h5.6M1876.2 209.6h-5.6M1421.7 110.4h5.6M1876.2 110.4h-5.6" stroke="#000" stroke-width="1.5" fill="none"/>
<rect x="1421.7" y="11.3" width="454.5" height="297.4" fill="none" stroke="#000" stroke-width="1.6"/>
<text class="t" transform="translate(1421.7 335.7) scale(1.05 1)" text-anchor="middle">1.2</text>
<text class="t" transform="translate(1535.3 335.7) scale(1.05 1)" text-anchor="middle">1.4</text>
<text class="t" transform="translate(1649 335.7) scale(1.05 1)" text-anchor="middle">1.6</text>
<text class="t" transform="translate(1762.6 335.7) scale(1.05 1)" text-anchor="middle">1.8</text>
<text class="t" transform="translate(1876.2 335.7) scale(1.05 1)" text-anchor="middle">2</text>
<text class="t" transform="translate(1415.7 319.4) scale(1.05 1)" text-anchor="end">0</text>
<text class="t" transform="translate(1415.7 220.3) scale(1.05 1)" text-anchor="end">200</text>
<text class="t" transform="translate(1415.7 121.1) scale(1.05 1)" text-anchor="end">400</text>
<text class="t" transform="translate(1415.7 22) scale(1.05 1)" text-anchor="end">600</text>
<text class="t" transform="translate(1351.1 159.5) rotate(-90) scale(1.05 1)" text-anchor="middle">Counts</text>
<text class="t" transform="translate(1648 368.3) scale(1.05 1)" text-anchor="middle"><tspan class="i">x</tspan><tspan class="i s" dy="3.4">B</tspan></text>
<text class="t b" transform="translate(1435.3 42.6) scale(1.0 1)" text-anchor="start">c</text>
<text class="t ti" transform="translate(1861.3 44.6) scale(1.0 1)" text-anchor="end">A(<tspan class="i">e</tspan>,<tspan class="i" dx="5">e</tspan><tspan dx="1">′</tspan><tspan class="i">p</tspan>)</text>
</g>
<g id="panel-d">
<clipPath id="clip-d"><rect x="90" y="440" width="448.7" height="289"/></clipPath>
<g clip-path="url(#clip-d)">
<polygon points="114.9,618.1 164.8,575.4 214.6,576.6 264.5,524.6 314.4,605.8 364.2,629.1 414.1,684.7 463.9,710.1 513.8,711.4 513.8,729.2 463.9,728.7 414.1,716.7 364.2,680.9 314.4,664.2 264.5,602 214.6,642.4 164.8,641.4 114.9,673.1" fill="#800080" fill-opacity="0.26" stroke="#800080" stroke-opacity="0.26" stroke-width="1"/>
<polyline points="114.9,645.6 164.8,608.4 214.6,609.5 264.5,563.3 314.4,635 364.2,655 414.1,700.7 463.9,719.4 513.8,720.3" fill="none" stroke="#800080" stroke-opacity="0.8" stroke-width="1.1" stroke-linejoin="round"/>
<g fill="#800080" fill-opacity="1"><circle cx="114.9" cy="645.6" r="2.0"/><circle cx="164.8" cy="608.4" r="2.0"/><circle cx="214.6" cy="609.5" r="2.0"/><circle cx="264.5" cy="563.3" r="2.0"/><circle cx="314.4" cy="635" r="2.0"/><circle cx="364.2" cy="655" r="2.0"/><circle cx="414.1" cy="700.7" r="2.0"/><circle cx="463.9" cy="719.4" r="2.0"/><circle cx="513.8" cy="720.3" r="2.0"/></g>
<polygon points="114.9,666.2 164.8,590.9 214.6,550.6 264.5,568.1 314.4,602.8 364.2,657.5 414.1,693.9 463.9,699.1 513.8,713.6 513.8,723.6 463.9,710.7 414.1,706.3 364.2,682.5 314.4,635.6 264.5,604.7 214.6,585.6 164.8,632.1 114.9,686.2" fill="#ffa500" fill-opacity="0.24" stroke="#ffa500" stroke-opacity="0.24" stroke-width="1"/>
<polyline points="114.9,676.2 164.8,611.5 214.6,568.1 264.5,586.4 314.4,619.2 364.2,670 414.1,700.1 463.9,704.9 513.8,718.6" fill="none" stroke="#e8a020" stroke-opacity="0.33" stroke-width="1.0" stroke-linejoin="round"/>
<g fill="#f5a614" fill-opacity="1"><circle cx="114.9" cy="676.2" r="2.0"/><circle cx="164.8" cy="611.5" r="2.0"/><circle cx="214.6" cy="568.1" r="2.0"/><circle cx="264.5" cy="586.4" r="2.0"/><circle cx="314.4" cy="619.2" r="2.0"/><circle cx="364.2" cy="670" r="2.0"/><circle cx="414.1" cy="700.1" r="2.0"/><circle cx="463.9" cy="704.9" r="2.0"/><circle cx="513.8" cy="718.6" r="2.0"/></g>
<polygon points="114.9,648.4 164.8,513.5 214.6,573.7 264.5,543.5 314.4,616.4 364.2,674.6 414.1,696.2 463.9,702.6 513.8,717.4 513.8,729 463.9,722.2 414.1,718.6 364.2,704.8 314.4,662 264.5,603.5 214.6,628.1 164.8,578.5 114.9,686.2" fill="#00f0f0" fill-opacity="0.16" stroke="#00f0f0" stroke-opacity="0.16" stroke-width="1"/>
<polyline points="114.9,667.3 164.8,546 214.6,600.9 264.5,573.5 314.4,639.2 364.2,689.7 414.1,707.4 463.9,712.4 513.8,723.2" fill="none" stroke="#40e0d0" stroke-opacity="0.38" stroke-width="1.0" stroke-linejoin="round"/>
<g fill="#30dcd8" fill-opacity="1"><circle cx="114.9" cy="667.3" r="2.0"/><circle cx="164.8" cy="546" r="2.0"/><circle cx="214.6" cy="600.9" r="2.0"/><circle cx="264.5" cy="573.5" r="2.0"/><circle cx="314.4" cy="639.2" r="2.0"/><circle cx="364.2" cy="689.7" r="2.0"/><circle cx="414.1" cy="707.4" r="2.0"/><circle cx="463.9" cy="712.4" r="2.0"/><circle cx="513.8" cy="723.2" r="2.0"/></g>
<polygon points="114.9,621.1 164.8,553.6 214.6,578 264.5,578 314.4,633.4 364.2,666.8 414.1,699 463.9,703.1 513.8,723.7 513.8,728.5 463.9,715.5 414.1,712.4 364.2,686.8 314.4,658.6 264.5,610.2 214.6,610.2 164.8,588.4 114.9,648.1" fill="#0000e0" fill-opacity="0.27" stroke="#0000e0" stroke-opacity="0.27" stroke-width="1"/>
<polyline points="114.9,634.6 164.8,571 214.6,594.1 264.5,594.1 314.4,646 364.2,676.8 414.1,705.7 463.9,709.3 513.8,726.1" fill="none" stroke="#0a0ac0" stroke-opacity="0.8" stroke-width="1.3" stroke-linejoin="round"/>
<g fill="#0000cd" fill-opacity="1"><circle cx="114.9" cy="634.6" r="2.35"/><circle cx="164.8" cy="571" r="2.35"/><circle cx="214.6" cy="594.1" r="2.35"/><circle cx="264.5" cy="594.1" r="2.35"/><circle cx="314.4" cy="646" r="2.35"/><circle cx="364.2" cy="676.8" r="2.35"/><circle cx="414.1" cy="705.7" r="2.35"/><circle cx="463.9" cy="709.3" r="2.35"/><circle cx="513.8" cy="726.1" r="2.35"/></g>
</g>
<path d="M239.6 729v-5.6M239.6 440v5.6M389.1 729v-5.6M389.1 440v5.6M90 632.7h5.6M538.7 632.7h-5.6M90 536.3h5.6M538.7 536.3h-5.6" stroke="#000" stroke-width="1.5" fill="none"/>
<rect x="90" y="440" width="448.7" height="289" fill="none" stroke="#000" stroke-width="1.6"/>
<text class="t" transform="translate(90 756) scale(1.05 1)" text-anchor="middle">0.4</text>
<text class="t" transform="translate(239.6 756) scale(1.05 1)" text-anchor="middle">0.6</text>
<text class="t" transform="translate(389.1 756) scale(1.05 1)" text-anchor="middle">0.8</text>
<text class="t" transform="translate(538.7 756) scale(1.05 1)" text-anchor="middle">1</text>
<text class="t" transform="translate(84 739.7) scale(1.05 1)" text-anchor="end">0</text>
<text class="t" transform="translate(84 643.4) scale(1.05 1)" text-anchor="end">50</text>
<text class="t" transform="translate(84 547) scale(1.05 1)" text-anchor="end">100</text>
<text class="t" transform="translate(84 450.7) scale(1.05 1)" text-anchor="end">150</text>
<text class="t" transform="translate(21.1 583.3) rotate(-90) scale(1.05 1)" text-anchor="middle">Counts</text>
<text class="t" transform="translate(313.6 788.2) scale(1.042 1)" text-anchor="middle"><tspan class="i">p</tspan><tspan class="i s" dy="4.2">miss</tspan><tspan dy="-4.2"> [GeV/</tspan><tspan class="i">c</tspan>]</text>
<text class="t b" transform="translate(103.6 471.3) scale(1.0 1)" text-anchor="start">d</text>
<text class="t ti" transform="translate(523.8 473.3) scale(1.0 1)" text-anchor="end">A(<tspan class="i">e</tspan>,<tspan class="i" dx="5">e</tspan><tspan dx="1">′</tspan><tspan class="i">pp</tspan>)</text>
</g>
<g id="panel-e">
<clipPath id="clip-e"><rect x="757.2" y="440.5" width="456.8" height="289"/></clipPath>
<g clip-path="url(#clip-e)">
<polygon points="772.4,729.5 802.9,668.3 833.3,547.7 863.8,596.8 894.2,524 924.7,453.6 955.1,563.8 985.6,646.2 1016.1,646.5 1046.5,629.4 1077,664.5 1107.4,682 1137.9,682.7 1168.3,729.5 1198.8,729.5 1198.8,729.5 1168.3,729.5 1137.9,721.3 1107.4,721 1077,711.9 1046.5,690.8 1016.1,701.5 985.6,701.2 955.1,646 924.7,563.2 894.2,617 863.8,669.2 833.3,634.5 802.9,713.9 772.4,729.5" fill="#800080" fill-opacity="0.26" stroke="#800080" stroke-opacity="0.26" stroke-width="1"/>
<polyline points="772.4,729.5 802.9,691.1 833.3,591.1 863.8,633 894.2,570.5 924.7,508.4 955.1,604.9 985.6,673.7 1016.1,674 1046.5,660.1 1077,688.2 1107.4,701.5 1137.9,702 1168.3,729.5 1198.8,729.5" fill="none" stroke="#800080" stroke-opacity="0.8" stroke-width="1.1" stroke-linejoin="round"/>
<g fill="#800080" fill-opacity="1"><circle cx="772.4" cy="729.5" r="2.0"/><circle cx="802.9" cy="691.1" r="2.0"/><circle cx="833.3" cy="591.1" r="2.0"/><circle cx="863.8" cy="633" r="2.0"/><circle cx="894.2" cy="570.5" r="2.0"/><circle cx="924.7" cy="508.4" r="2.0"/><circle cx="955.1" cy="604.9" r="2.0"/><circle cx="985.6" cy="673.7" r="2.0"/><circle cx="1016.1" cy="674" r="2.0"/><circle cx="1046.5" cy="660.1" r="2.0"/><circle cx="1077" cy="688.2" r="2.0"/><circle cx="1107.4" cy="701.5" r="2.0"/><circle cx="1137.9" cy="702" r="2.0"/><circle cx="1168.3" cy="729.5" r="2.0"/><circle cx="1198.8" cy="729.5" r="2.0"/></g>
<polygon points="772.4,729.5 802.9,682.1 833.3,506.7 863.8,527.5 894.2,561.7 924.7,555.4 955.1,596.2 985.6,666.8 1016.1,677.4 1046.5,677.7 1077,683.4 1107.4,691.8 1137.9,720.7 1168.3,710.3 1198.8,710.3 1198.8,723.9 1168.3,723.9 1137.9,729.1 1107.4,712.2 1077,706.2 1046.5,702.1 1016.1,701.8 985.6,694 955.1,637.4 924.7,603 894.2,608.3 863.8,578.9 833.3,560.9 802.9,705.3 772.4,729.5" fill="#ffa500" fill-opacity="0.24" stroke="#ffa500" stroke-opacity="0.24" stroke-width="1"/>
<polyline points="772.4,729.5 802.9,693.7 833.3,533.8 863.8,553.2 894.2,585 924.7,579.2 955.1,616.8 985.6,680.4 1016.1,689.6 1046.5,689.9 1077,694.8 1107.4,702 1137.9,724.9 1168.3,717.1 1198.8,717.1" fill="none" stroke="#e8a020" stroke-opacity="0.33" stroke-width="1.0" stroke-linejoin="round"/>
<g fill="#f5a614" fill-opacity="1"><circle cx="772.4" cy="729.5" r="2.0"/><circle cx="802.9" cy="693.7" r="2.0"/><circle cx="833.3" cy="533.8" r="2.0"/><circle cx="863.8" cy="553.2" r="2.0"/><circle cx="894.2" cy="585" r="2.0"/><circle cx="924.7" cy="579.2" r="2.0"/><circle cx="955.1" cy="616.8" r="2.0"/><circle cx="985.6" cy="680.4" r="2.0"/><circle cx="1016.1" cy="689.6" r="2.0"/><circle cx="1046.5" cy="689.9" r="2.0"/><circle cx="1077" cy="694.8" r="2.0"/><circle cx="1107.4" cy="702" r="2.0"/><circle cx="1137.9" cy="724.9" r="2.0"/><circle cx="1168.3" cy="717.1" r="2.0"/><circle cx="1198.8" cy="717.1" r="2.0"/></g>
<polygon points="772.4,729.5 802.9,668.5 833.3,524.4 863.8,451.1 894.2,534 924.7,552.8 955.1,600.2 985.6,690.2 1016.1,619.2 1046.5,700.8 1077,679.6 1107.4,679.6 1137.9,713.2 1168.3,729.5 1198.8,729.5 1198.8,729.5 1168.3,729.5 1137.9,729.6 1107.4,713 1077,713 1046.5,724.6 1016.1,672.2 985.6,719 955.1,658.2 924.7,621.8 894.2,607 863.8,539.7 833.3,599.4 802.9,706.1 772.4,729.5" fill="#00f0f0" fill-opacity="0.16" stroke="#00f0f0" stroke-opacity="0.16" stroke-width="1"/>
<polyline points="772.4,729.5 802.9,687.3 833.3,561.9 863.8,495.4 894.2,570.5 924.7,587.3 955.1,629.2 985.6,704.6 1016.1,645.7 1046.5,712.7 1077,696.3 1107.4,696.3 1137.9,721.4 1168.3,729.5 1198.8,729.5" fill="none" stroke="#40e0d0" stroke-opacity="0.38" stroke-width="1.0" stroke-linejoin="round"/>
<g fill="#30dcd8" fill-opacity="1"><circle cx="772.4" cy="729.5" r="2.0"/><circle cx="802.9" cy="687.3" r="2.0"/><circle cx="833.3" cy="561.9" r="2.0"/><circle cx="863.8" cy="495.4" r="2.0"/><circle cx="894.2" cy="570.5" r="2.0"/><circle cx="924.7" cy="587.3" r="2.0"/><circle cx="955.1" cy="629.2" r="2.0"/><circle cx="985.6" cy="704.6" r="2.0"/><circle cx="1016.1" cy="645.7" r="2.0"/><circle cx="1046.5" cy="712.7" r="2.0"/><circle cx="1077" cy="696.3" r="2.0"/><circle cx="1107.4" cy="696.3" r="2.0"/><circle cx="1137.9" cy="721.4" r="2.0"/><circle cx="1168.3" cy="729.5" r="2.0"/><circle cx="1198.8" cy="729.5" r="2.0"/></g>
<polygon points="772.4,729.5 802.9,662 833.3,530.9 863.8,524.5 894.2,557.7 924.7,552.5 955.1,636.5 985.6,645.9 1016.1,645.9 1046.5,662 1077,708.5 1107.4,720 1137.9,705.1 1168.3,712.5 1198.8,720 1198.8,728 1168.3,723.9 1137.9,719.3 1107.4,728 1077,721.5 1046.5,687.2 1016.1,674.3 985.6,674.3 955.1,666.5 924.7,594.9 894.2,599.5 863.8,570.3 833.3,576.1 802.9,687.2 772.4,729.5" fill="#0000e0" fill-opacity="0.27" stroke="#0000e0" stroke-opacity="0.27" stroke-width="1"/>
<polyline points="772.4,729.5 802.9,674.6 833.3,553.5 863.8,547.4 894.2,578.6 924.7,573.7 955.1,651.5 985.6,660.1 1016.1,660.1 1046.5,674.6 1077,715 1107.4,724 1137.9,712.2 1168.3,718.2 1198.8,724" fill="none" stroke="#0a0ac0" stroke-opacity="0.8" stroke-width="1.3" stroke-linejoin="round"/>
<g fill="#0000cd" fill-opacity="1"><circle cx="772.4" cy="729.5" r="2.35"/><circle cx="802.9" cy="674.6" r="2.35"/><circle cx="833.3" cy="553.5" r="2.35"/><circle cx="863.8" cy="547.4" r="2.35"/><circle cx="894.2" cy="578.6" r="2.35"/><circle cx="924.7" cy="573.7" r="2.35"/><circle cx="955.1" cy="651.5" r="2.35"/><circle cx="985.6" cy="660.1" r="2.35"/><circle cx="1016.1" cy="660.1" r="2.35"/><circle cx="1046.5" cy="674.6" r="2.35"/><circle cx="1077" cy="715" r="2.35"/><circle cx="1107.4" cy="724" r="2.35"/><circle cx="1137.9" cy="712.2" r="2.35"/><circle cx="1168.3" cy="718.2" r="2.35"/><circle cx="1198.8" cy="724" r="2.35"/></g>
</g>
<path d="M909.5 729.5v-5.6M909.5 440.5v5.6M1061.7 729.5v-5.6M1061.7 440.5v5.6M757.2 671.7h5.6M1214 671.7h-5.6M757.2 613.9h5.6M1214 613.9h-5.6M757.2 556.1h5.6M1214 556.1h-5.6M757.2 498.3h5.6M1214 498.3h-5.6" stroke="#000" stroke-width="1.5" fill="none"/>
<rect x="757.2" y="440.5" width="456.8" height="289" fill="none" stroke="#000" stroke-width="1.6"/>
<text class="t" transform="translate(757.2 756.5) scale(1.05 1)" text-anchor="middle">1</text>
<text class="t" transform="translate(909.5 756.5) scale(1.05 1)" text-anchor="middle">2</text>
<text class="t" transform="translate(1061.7 756.5) scale(1.05 1)" text-anchor="middle">3</text>
<text class="t" transform="translate(1214 756.5) scale(1.05 1)" text-anchor="middle">4</text>
<text class="t" transform="translate(751.2 740.2) scale(1.05 1)" text-anchor="end">0</text>
<text class="t" transform="translate(751.2 682.4) scale(1.05 1)" text-anchor="end">20</text>
<text class="t" transform="translate(751.2 624.6) scale(1.05 1)" text-anchor="end">40</text>
<text class="t" transform="translate(751.2 566.8) scale(1.05 1)" text-anchor="end">60</text>
<text class="t" transform="translate(751.2 509) scale(1.05 1)" text-anchor="end">80</text>
<text class="t" transform="translate(751.2 451.2) scale(1.05 1)" text-anchor="end">100</text>
<text class="t" transform="translate(685.6 584.8) rotate(-90) scale(1.05 1)" text-anchor="middle">Counts</text>
<text class="t" transform="translate(984.8 792.4) scale(1.057 1)" text-anchor="middle"><tspan class="i">Q</tspan><tspan class="s" dy="-9.5" dx="1">2</tspan><tspan dy="9.5"> [GeV</tspan><tspan class="s" dy="-9.5" dx="1">2</tspan><tspan dy="9.5">/</tspan><tspan class="i">c</tspan><tspan class="s" dy="-9.5" dx="1">2</tspan><tspan dy="9.5">]</tspan></text>
<text class="t b" transform="translate(770.8 471.8) scale(1.0 1)" text-anchor="start">e</text>
<text class="t ti" transform="translate(1199.1 473.8) scale(1.0 1)" text-anchor="end">A(<tspan class="i">e</tspan>,<tspan class="i" dx="5">e</tspan><tspan dx="1">′</tspan><tspan class="i">pp</tspan>)</text>
</g>
<g id="panel-f">
<clipPath id="clip-f"><rect x="1421.2" y="440.3" width="451.3" height="295.8"/></clipPath>
<g clip-path="url(#clip-f)">
<polygon points="1449.4,486.1 1505.8,563.7 1562.2,611.3 1618.6,651.9 1675.1,713 1731.5,736.1 1787.9,722.7 1844.3,736.1 1900.7,736.1 1900.7,736.1 1844.3,736.1 1787.9,736.1 1731.5,736.1 1675.1,732 1618.6,693.1 1562.2,662.7 1505.8,625.1 1449.4,561.3" fill="#800080" fill-opacity="0.26" stroke="#800080" stroke-opacity="0.26" stroke-width="1"/>
<polyline points="1449.4,523.7 1505.8,594.4 1562.2,637 1618.6,672.5 1675.1,722.5 1731.5,736.1 1787.9,729.4 1844.3,736.1 1900.7,736.1" fill="none" stroke="#800080" stroke-opacity="0.8" stroke-width="1.1" stroke-linejoin="round"/>
<g fill="#800080" fill-opacity="1"><circle cx="1449.4" cy="523.7" r="2.0"/><circle cx="1505.8" cy="594.4" r="2.0"/><circle cx="1562.2" cy="637" r="2.0"/><circle cx="1618.6" cy="672.5" r="2.0"/><circle cx="1675.1" cy="722.5" r="2.0"/><circle cx="1731.5" cy="736.1" r="2.0"/><circle cx="1787.9" cy="729.4" r="2.0"/><circle cx="1844.3" cy="736.1" r="2.0"/><circle cx="1900.7" cy="736.1" r="2.0"/></g>
<polygon points="1449.4,490 1505.8,578.5 1562.2,642.8 1618.6,674.1 1675.1,708.9 1731.5,724.7 1787.9,729.7 1844.3,736.1 1900.7,736.1 1900.7,736.1 1844.3,736.1 1787.9,734.9 1731.5,732.1 1675.1,721.1 1618.6,693.3 1562.2,666.8 1505.8,610.3 1449.4,530" fill="#ffa500" fill-opacity="0.24" stroke="#ffa500" stroke-opacity="0.24" stroke-width="1"/>
<polyline points="1449.4,510 1505.8,594.4 1562.2,654.8 1618.6,683.7 1675.1,715 1731.5,728.4 1787.9,732.3 1844.3,736.1 1900.7,736.1" fill="none" stroke="#e8a020" stroke-opacity="0.33" stroke-width="1.0" stroke-linejoin="round"/>
<g fill="#f5a614" fill-opacity="1"><circle cx="1449.4" cy="510" r="2.0"/><circle cx="1505.8" cy="594.4" r="2.0"/><circle cx="1562.2" cy="654.8" r="2.0"/><circle cx="1618.6" cy="683.7" r="2.0"/><circle cx="1675.1" cy="715" r="2.0"/><circle cx="1731.5" cy="728.4" r="2.0"/><circle cx="1787.9" cy="732.3" r="2.0"/><circle cx="1844.3" cy="736.1" r="2.0"/><circle cx="1900.7" cy="736.1" r="2.0"/></g>
<polygon points="1449.4,455.9 1505.8,586 1562.2,656.4 1618.6,681 1675.1,700.6 1731.5,716.2 1787.9,717.2 1844.3,733.7 1900.7,736.1 1900.7,736.1 1844.3,737.1 1787.9,730.8 1731.5,730.2 1675.1,720.4 1618.6,706.6 1562.2,687.8 1505.8,630.4 1449.4,517.9" fill="#00f0f0" fill-opacity="0.16" stroke="#00f0f0" stroke-opacity="0.16" stroke-width="1"/>
<polyline points="1449.4,486.9 1505.8,608.2 1562.2,672.1 1618.6,693.8 1675.1,710.5 1731.5,723.2 1787.9,724 1844.3,735.4 1900.7,736.1" fill="none" stroke="#40e0d0" stroke-opacity="0.38" stroke-width="1.0" stroke-linejoin="round"/>
<g fill="#30dcd8" fill-opacity="1"><circle cx="1449.4" cy="486.9" r="2.0"/><circle cx="1505.8" cy="608.2" r="2.0"/><circle cx="1562.2" cy="672.1" r="2.0"/><circle cx="1618.6" cy="693.8" r="2.0"/><circle cx="1675.1" cy="710.5" r="2.0"/><circle cx="1731.5" cy="723.2" r="2.0"/><circle cx="1787.9" cy="724" r="2.0"/><circle cx="1844.3" cy="735.4" r="2.0"/><circle cx="1900.7" cy="736.1" r="2.0"/></g>
<polygon points="1449.4,483.8 1505.8,571.7 1562.2,651.9 1618.6,697.1 1675.1,702 1731.5,720.2 1787.9,731.4 1844.3,733.4 1900.7,734.9 1900.7,736.5 1844.3,736.2 1787.9,735.4 1731.5,728.6 1675.1,714.8 1618.6,710.9 1562.2,672.7 1505.8,601.5 1449.4,521" fill="#0000e0" fill-opacity="0.27" stroke="#0000e0" stroke-opacity="0.27" stroke-width="1"/>
<polyline points="1449.4,502.4 1505.8,586.6 1562.2,662.3 1618.6,704 1675.1,708.4 1731.5,724.4 1787.9,733.4 1844.3,734.8 1900.7,735.7" fill="none" stroke="#0a0ac0" stroke-opacity="0.8" stroke-width="1.3" stroke-linejoin="round"/>
<g fill="#0000cd" fill-opacity="1"><circle cx="1449.4" cy="502.4" r="2.35"/><circle cx="1505.8" cy="586.6" r="2.35"/><circle cx="1562.2" cy="662.3" r="2.35"/><circle cx="1618.6" cy="704" r="2.35"/><circle cx="1675.1" cy="708.4" r="2.35"/><circle cx="1731.5" cy="724.4" r="2.35"/><circle cx="1787.9" cy="733.4" r="2.35"/><circle cx="1844.3" cy="734.8" r="2.35"/><circle cx="1900.7" cy="735.7" r="2.35"/></g>
</g>
<path d="M1534 736.1v-5.6M1534 440.3v5.6M1646.9 736.1v-5.6M1646.9 440.3v5.6M1759.7 736.1v-5.6M1759.7 440.3v5.6M1421.2 662.1h5.6M1872.5 662.1h-5.6M1421.2 588.2h5.6M1872.5 588.2h-5.6M1421.2 514.2h5.6M1872.5 514.2h-5.6" stroke="#000" stroke-width="1.5" fill="none"/>
<rect x="1421.2" y="440.3" width="451.3" height="295.8" fill="none" stroke="#000" stroke-width="1.6"/>
<text class="t" transform="translate(1421.2 763.1) scale(1.05 1)" text-anchor="middle">1.2</text>
<text class="t" transform="translate(1534 763.1) scale(1.05 1)" text-anchor="middle">1.4</text>
<text class="t" transform="translate(1646.9 763.1) scale(1.05 1)" text-anchor="middle">1.6</text>
<text class="t" transform="translate(1759.7 763.1) scale(1.05 1)" text-anchor="middle">1.8</text>
<text class="t" transform="translate(1872.5 763.1) scale(1.05 1)" text-anchor="middle">2</text>
<text class="t" transform="translate(1415.2 746.8) scale(1.05 1)" text-anchor="end">0</text>
<text class="t" transform="translate(1415.2 672.9) scale(1.05 1)" text-anchor="end">50</text>
<text class="t" transform="translate(1415.2 598.9) scale(1.05 1)" text-anchor="end">100</text>
<text class="t" transform="translate(1415.2 525) scale(1.05 1)" text-anchor="end">150</text>
<text class="t" transform="translate(1415.2 451) scale(1.05 1)" text-anchor="end">200</text>
<text class="t" transform="translate(1350 588.2) rotate(-90) scale(1.05 1)" text-anchor="middle">Counts</text>
<text class="t" transform="translate(1645.8 795.7) scale(1.05 1)" text-anchor="middle"><tspan class="i">x</tspan><tspan class="i s" dy="3.4">B</tspan></text>
<text class="t b" transform="translate(1434.8 471.6) scale(1.0 1)" text-anchor="start">f</text>
<text class="t ti" transform="translate(1857.6 473.6) scale(1.0 1)" text-anchor="end">A(<tspan class="i">e</tspan>,<tspan class="i" dx="5">e</tspan><tspan dx="1">′</tspan><tspan class="i">pp</tspan>)</text>
</g>
<rect x="1741.1" y="88.4" width="54.5" height="19.4" fill="#0000e0" fill-opacity="0.27" stroke="#0000e0" stroke-opacity="0.27" stroke-width="1"/>
<line x1="1741.1" x2="1795.6" y1="98.1" y2="98.1" stroke="#0a0ac0" stroke-opacity="0.8" stroke-width="1.3"/>
<circle cx="1768.3" cy="98.1" r="2.35" fill="#0000cd"/>
<text class="t" transform="translate(1817.5 107.6) scale(1.05 1)" text-anchor="start">C</text>
<rect x="1741.1" y="128.4" width="54.5" height="19.4" fill="#00f0f0" fill-opacity="0.16" stroke="#00f0f0" stroke-opacity="0.16" stroke-width="1"/>
<line x1="1741.1" x2="1795.6" y1="138.1" y2="138.1" stroke="#40e0d0" stroke-opacity="0.38" stroke-width="1.0"/>
<circle cx="1768.3" cy="138.1" r="2.0" fill="#30dcd8"/>
<text class="t" transform="translate(1817.5 147.6) scale(1.05 1)" text-anchor="start">Al</text>
<rect x="1741.1" y="168.4" width="54.5" height="19.4" fill="#ffa500" fill-opacity="0.24" stroke="#ffa500" stroke-opacity="0.24" stroke-width="1"/>
<line x1="1741.1" x2="1795.6" y1="178.1" y2="178.1" stroke="#e8a020" stroke-opacity="0.33" stroke-width="1.0"/>
<circle cx="1768.3" cy="178.1" r="2.0" fill="#f5a614"/>
<text class="t" transform="translate(1817.5 187.6) scale(1.05 1)" text-anchor="start">Fe</text>
<rect x="1741.1" y="208.4" width="54.5" height="19.4" fill="#800080" fill-opacity="0.26" stroke="#800080" stroke-opacity="0.26" stroke-width="1"/>
<line x1="1741.1" x2="1795.6" y1="218.1" y2="218.1" stroke="#800080" stroke-opacity="0.8" stroke-width="1.1"/>
<circle cx="1768.3" cy="218.1" r="2.0" fill="#800080"/>
<text class="t" transform="translate(1817.5 227.6) scale(1.05 1)" text-anchor="start">Pb</text>
</svg></body></html>
